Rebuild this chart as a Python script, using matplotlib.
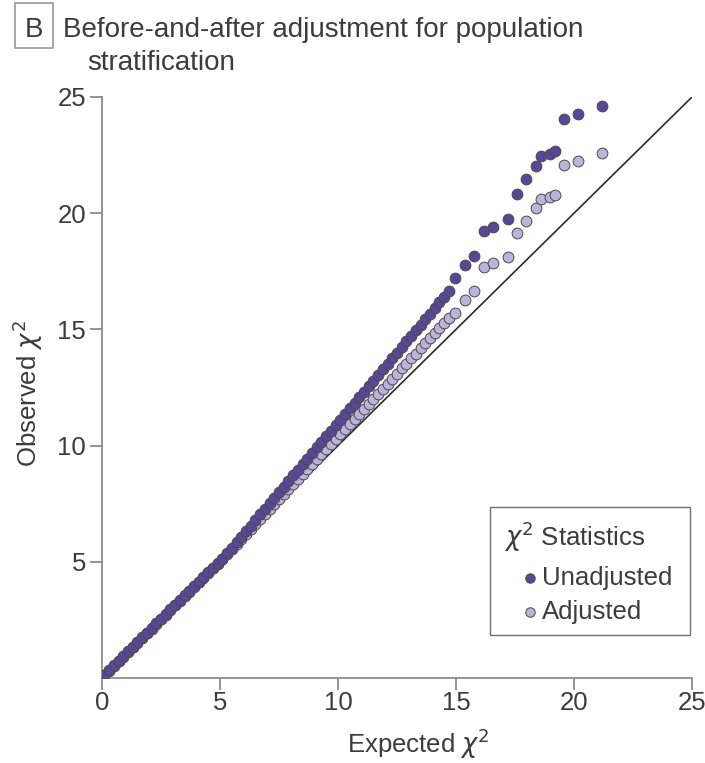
import matplotlib
matplotlib.use("Agg")
import matplotlib.pyplot as plt
from matplotlib.lines import Line2D
from matplotlib.patches import Rectangle

plt.rcParams['font.family'] = ['Liberation Sans', 'DejaVu Sans']
plt.rcParams['mathtext.fontset'] = 'dejavusans'

# expected chi-square quantiles (dense part, shared by both series)
expected_dense = [0.1, 0.3, 0.5, 0.7, 0.9, 1.1, 1.3, 1.5, 1.7, 1.9,
                  2.1, 2.3, 2.5, 2.7, 2.9, 3.1, 3.3, 3.5, 3.7, 3.9,
                  4.1, 4.3, 4.5, 4.7, 4.9, 5.1, 5.3, 5.5, 5.7, 5.9,
                  6.1, 6.3, 6.5, 6.7, 6.9, 7.1, 7.3, 7.5, 7.7, 7.9,
                  8.1, 8.3, 8.5, 8.7, 8.9, 9.1, 9.3, 9.5, 9.7, 9.9,
                  10.1, 10.3, 10.5, 10.7, 10.9, 11.1, 11.3, 11.5, 11.7, 11.9,
                  12.1, 12.3, 12.5, 12.7, 12.9, 13.1, 13.3, 13.5, 13.7, 13.9,
                  14.1, 14.3, 14.5, 14.7]

unadj_dense = [0.15, 0.35, 0.55, 0.75, 0.95, 1.15, 1.35, 1.55, 1.75, 1.95,
               2.15, 2.35, 2.55, 2.75, 2.95, 3.15, 3.35, 3.55, 3.75, 3.95,
               4.15, 4.35, 4.55, 4.75, 4.95, 5.12, 5.36, 5.60, 5.84, 6.08,
               6.32, 6.56, 6.80, 7.04, 7.28, 7.52, 7.76, 8.00, 8.24, 8.48,
               8.72, 8.96, 9.20, 9.44, 9.68, 9.92, 10.16, 10.40, 10.64, 10.88,
               11.12, 11.36, 11.60, 11.84, 12.08, 12.32, 12.56, 12.80, 13.04, 13.28,
               13.52, 13.76, 14.00, 14.24, 14.48, 14.72, 14.96, 15.20, 15.44, 15.68,
               15.92, 16.16, 16.40, 16.64]

adj_dense = [0.12, 0.32, 0.52, 0.72, 0.92, 1.12, 1.32, 1.52, 1.72, 1.92,
             2.12, 2.32, 2.52, 2.72, 2.92, 3.12, 3.32, 3.52, 3.72, 3.92,
             4.12, 4.32, 4.52, 4.72, 4.92, 5.11, 5.32, 5.54, 5.76, 5.97,
             6.19, 6.40, 6.62, 6.84, 7.05, 7.27, 7.48, 7.70, 7.92, 8.13,
             8.35, 8.56, 8.78, 9.00, 9.21, 9.43, 9.64, 9.86, 10.08, 10.29,
             10.51, 10.72, 10.94, 11.16, 11.37, 11.59, 11.80, 12.02, 12.24, 12.45,
             12.67, 12.88, 13.10, 13.32, 13.53, 13.75, 13.96, 14.18, 14.40, 14.61,
             14.83, 15.04, 15.26, 15.48]

# sparse upper tail
expected_tail = [14.95, 15.38, 15.78, 16.18, 16.58, 17.19, 17.58, 17.98,
                 18.39, 18.59, 18.98, 19.19, 19.59, 20.18, 21.19]
unadj_tail = [17.22, 17.77, 18.16, 19.23, 19.42, 19.74, 20.83, 21.46,
              22.03, 22.46, 22.55, 22.66, 24.04, 24.27, 24.63]
adj_tail = [15.70, 16.27, 16.65, 17.67, 17.84, 18.13, 19.14, 19.68,
            20.24, 20.61, 20.71, 20.78, 22.07, 22.26, 22.60]

series_labels = ['Unadjusted', 'Adjusted']

dark = '#574797'
light = '#bcb2da'
edge = '#4a4a4a'
txt = '#3c3c3c'
spine = '#8c8c8c'
W, H = 705, 763


def fx(px):
    return px / W


def fy(py):
    return 1 - py / H


fig = plt.figure(figsize=(7.05, 7.63), dpi=100)
ax = fig.add_axes([fx(102), fy(678), 590 / W, 581 / H])

ax.plot([0, 25], [0, 25], color='#2b2b2b', lw=1.2, zorder=1)

ax.scatter(expected_dense + expected_tail, adj_dense + adj_tail, s=60,
           color=light, edgecolor=edge, linewidth=0.7, zorder=2)
ax.scatter(expected_dense + expected_tail, unadj_dense + unadj_tail, s=60,
           color=dark, edgecolor=edge, linewidth=0.7, zorder=3)

ax.set_xlim(0, 25)
ax.set_ylim(0, 25)
ax.set_xticks([0, 5, 10, 15, 20, 25])
ax.set_yticks([5, 10, 15, 20, 25])
for s in ['top', 'right']:
    ax.spines[s].set_visible(False)
for s in ['left', 'bottom']:
    ax.spines[s].set_color(spine)
    ax.spines[s].set_linewidth(1.3)
ax.tick_params(direction='out', length=8.5, width=1.3, color=spine,
               labelsize=18.5, labelcolor=txt)
ax.tick_params(axis='x', pad=1)
ax.tick_params(axis='y', pad=3)
ax.set_xlabel(r'Expected $\chi^2$', fontsize=18.5, color=txt, va='center')
ax.set_ylabel(r'Observed $\chi^2$', fontsize=18.5, color=txt, va='center')
ax.xaxis.set_label_coords(0.536, -0.113)
ax.yaxis.set_label_coords(-0.126, 0.49)

# panel letter and title
fig.patches.append(Rectangle((fx(15), fy(48)), 38 / W, 45 / H,
                             transform=fig.transFigure, fill=False,
                             edgecolor='#9a9a9a', lw=1.2))
fig.text(fx(34), fy(30), 'B', fontsize=20, color=txt, ha='center', va='center')
fig.text(fx(63), fy(30), 'Before-and-after adjustment for population',
         fontsize=20, color=txt, ha='left', va='center')
fig.text(fx(87), fy(63), 'stratification',
         fontsize=20, color=txt, ha='left', va='center')

# legend box
fig.patches.append(Rectangle((fx(490), fy(635)), 200 / W, 128 / H,
                             transform=fig.transFigure, fill=False,
                             edgecolor='#707070', lw=1.0))
fig.text(fx(504), fy(537), r'$\chi^2$ Statistics', fontsize=18.5, color=txt,
         ha='left', va='center')
for lab, col, yy in zip(series_labels, [dark, light], [578, 612]):
    fig.add_artist(Line2D([fx(530)], [fy(yy)], transform=fig.transFigure,
                          ls='none', marker='o', ms=6.8, mfc=col, mec=edge,
                          mew=0.7))
    fig.text(fx(542), fy(yy), lab, fontsize=18.5, color=txt,
             ha='left', va='center')

fig.savefig('out.png', dpi=100)
